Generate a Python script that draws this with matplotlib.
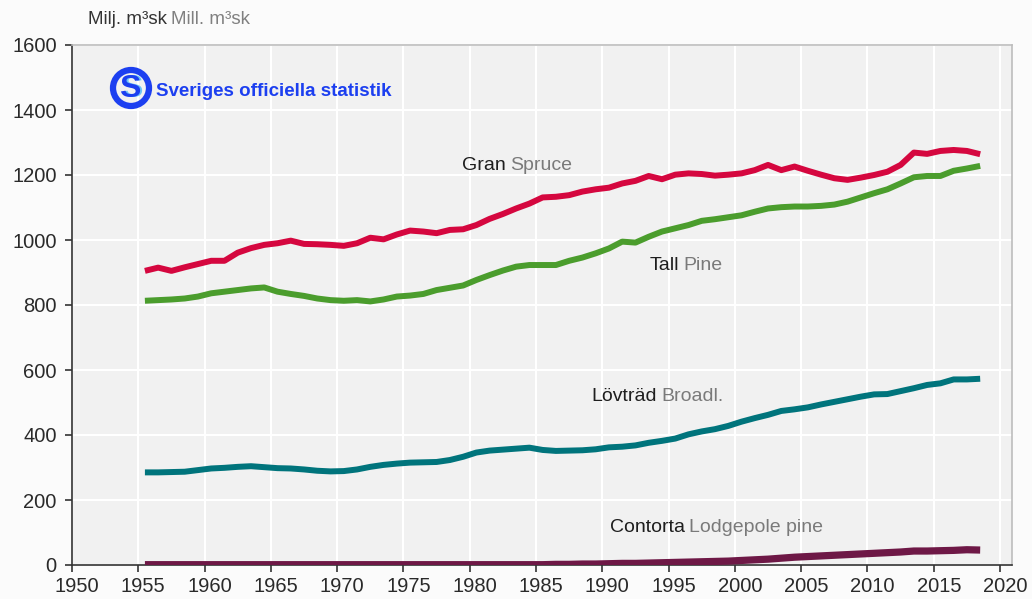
import matplotlib
matplotlib.use("Agg")
import matplotlib.pyplot as plt
import matplotlib.transforms as mtrans
from matplotlib.patches import Circle

#data (million m3sk, standing volume)

years = list(range(1955, 2019))

gran = [905, 915, 905, 916, 926, 936, 936, 961, 975, 985, 990, 998, 988, 987, 985, 982,
        990, 1007, 1002, 1017, 1029, 1026, 1021, 1031, 1033, 1046, 1065, 1080, 1097, 1112, 1131,
        1133, 1138, 1149, 1156, 1161, 1174, 1182, 1197, 1187, 1201, 1205, 1203, 1198, 1201, 1205,
        1215, 1231, 1215, 1226, 1213, 1201, 1190, 1185, 1192, 1200, 1210, 1231, 1269, 1265, 1274,
        1277, 1274, 1264]

tall = [813, 815, 817, 820, 826, 836, 841, 846, 851, 854, 841, 834, 828, 820, 815, 813,
        815, 811, 817, 826, 829, 834, 846, 853, 860, 877, 892, 906, 918, 923, 923,
        923, 936, 946, 959, 974, 995, 992, 1010, 1026, 1036, 1046, 1059, 1064, 1070, 1076,
        1087, 1097, 1101, 1103, 1103, 1105, 1109, 1118, 1131, 1144, 1156, 1174, 1193, 1197, 1197,
        1213, 1220, 1228]

lov = [285, 285, 286, 287, 292, 297, 299, 302, 304, 301, 298, 297, 294, 290, 288, 289,
       294, 302, 308, 312, 315, 316, 317, 323, 333, 346, 352, 355, 358, 361, 354,
       351, 352, 353, 356, 362, 364, 368, 376, 382, 389, 402, 411, 418, 428, 441,
       452, 462, 474, 479, 485, 494, 502, 510, 518, 525, 526, 535, 544, 554, 559,
       571, 571, 573]

contorta = [1, 1, 1, 1, 1, 1, 1, 1, 1, 1, 1, 1, 1, 1, 1, 1,
            1, 1, 1, 1, 1, 1, 1, 1, 1, 1, 1, 1, 1, 1, 1,
            2, 2, 3, 3, 4, 5, 5, 6, 7, 8, 9, 10, 11, 12, 14,
            16, 18, 21, 24, 26, 28, 30, 32, 34, 36, 38, 40, 43, 43, 44,
            45, 47, 46]

xticks = list(range(1950, 2021, 5))
yticks = list(range(0, 1601, 200))

#label: (swedish, english, x, y)
labels = [
    ("Gran", "Spruce", 1979.4, 1228),
    ("Tall", "Pine", 1993.6, 923),
    ("Lövträd", "Broadl.", 1989.2, 517),
    ("Contorta", "Lodgepole pine", 1990.6, 114),
]

#_____________________________________________________________________________
def main():

    plt.rcParams["font.family"] = ["Liberation Sans", "DejaVu Sans"]

    fig = plt.figure(figsize=(10.32, 5.99), dpi=100)
    fig.patch.set_facecolor("#fbfbfb")
    ax = fig.add_axes([72/1032., 34/599., 940/1032., 520/599.])
    ax.set_facecolor("#f1f1f1")

    x = [yr + 0.5 for yr in years]

    ax.plot(x, gran, "-", color="#d5073f", lw=4.3, solid_capstyle="butt", zorder=3)
    ax.plot(x, tall, "-", color="#4b9d2d", lw=4.3, solid_capstyle="butt", zorder=3)
    ax.plot(x, lov, "-", color="#00747c", lw=4.3, solid_capstyle="butt", zorder=3)
    ax.plot(x, contorta, "-", color="#6e1846", lw=5.2, solid_capstyle="butt", zorder=3)

    ax.set_xlim(1950, 2020.9)
    ax.set_ylim(0, 1600)
    ax.set_xticks(xticks)
    ax.set_yticks(yticks)

    set_frame(fig, ax)

    for sw, en, lx, ly in labels:
        t1 = ax.text(lx, ly, sw, color="#1e1e1e", fontsize=14, va="center", ha="left", zorder=4)
        ax.annotate(en, xy=(1, 0.5), xycoords=t1, xytext=(3, 0), textcoords="offset points",
                    color="#7a7a7a", fontsize=14, va="center", ha="left", zorder=4)

    #unit
    t1 = fig.text(88/1032., 1 - 20/599., "Milj. m³sk", color="#333333", fontsize=13.5, va="center")
    ax.annotate("Mill. m³sk", xy=(1, 0.5), xycoords=t1, xytext=(3, 0), textcoords="offset points",
                color="#808080", fontsize=13.5, va="center", ha="left", annotation_clip=False)

    draw_logo(fig)

    fig.savefig("out.png", dpi=100, facecolor=fig.get_facecolor())
    plt.close()

#main

#_____________________________________________________________________________
def set_frame(fig, ax):

    ax.grid(True, color="white", lw=1.5)
    ax.set_axisbelow(True)

    ax.spines["left"].set_color("#333333")
    ax.spines["bottom"].set_color("#333333")
    ax.spines["top"].set_color("#bdbdbd")
    ax.spines["right"].set_color("#bdbdbd")
    for s in ax.spines.values():
        s.set_linewidth(1.2)

    ax.tick_params(which="both", direction="out", length=5, width=1.2, colors="#333333",
                   labelsize=14.5, labelcolor="#2a2a2a")
    ax.tick_params(axis="y", pad=6)
    ax.tick_params(axis="x", pad=4)

    #year labels sit a bit right of their ticks in the original
    shift = mtrans.ScaledTranslation(5/100., 0, fig.dpi_scale_trans)
    for lab in ax.get_xticklabels():
        lab.set_transform(lab.get_transform() + shift)

#set_frame

#_____________________________________________________________________________
def draw_logo(fig):

    #round SCB-like badge with the text next to it
    lax = fig.add_axes([0, 0, 1, 1], facecolor="none")
    lax.set_xlim(0, 1032)
    lax.set_ylim(599, 0)
    lax.axis("off")

    lax.add_patch(Circle((131, 88), 18, fill=False, ec="#1c3ff0", lw=4.5))
    lax.text(132, 89, "S", color="#6cc4f7", fontsize=23, fontweight="bold", ha="center", va="center")
    lax.text(130, 89, "S", color="#1c3ff0", fontsize=23, fontweight="bold", ha="center", va="center")

    lax.text(156, 91, "Sveriges officiella statistik", color="#1c3ff0", fontsize=13.5,
             fontweight="bold", ha="left", va="center",
             family=["Liberation Sans Narrow", "Liberation Sans", "DejaVu Sans"])

#draw_logo

#_____________________________________________________________________________
if __name__ == "__main__":

    main()
